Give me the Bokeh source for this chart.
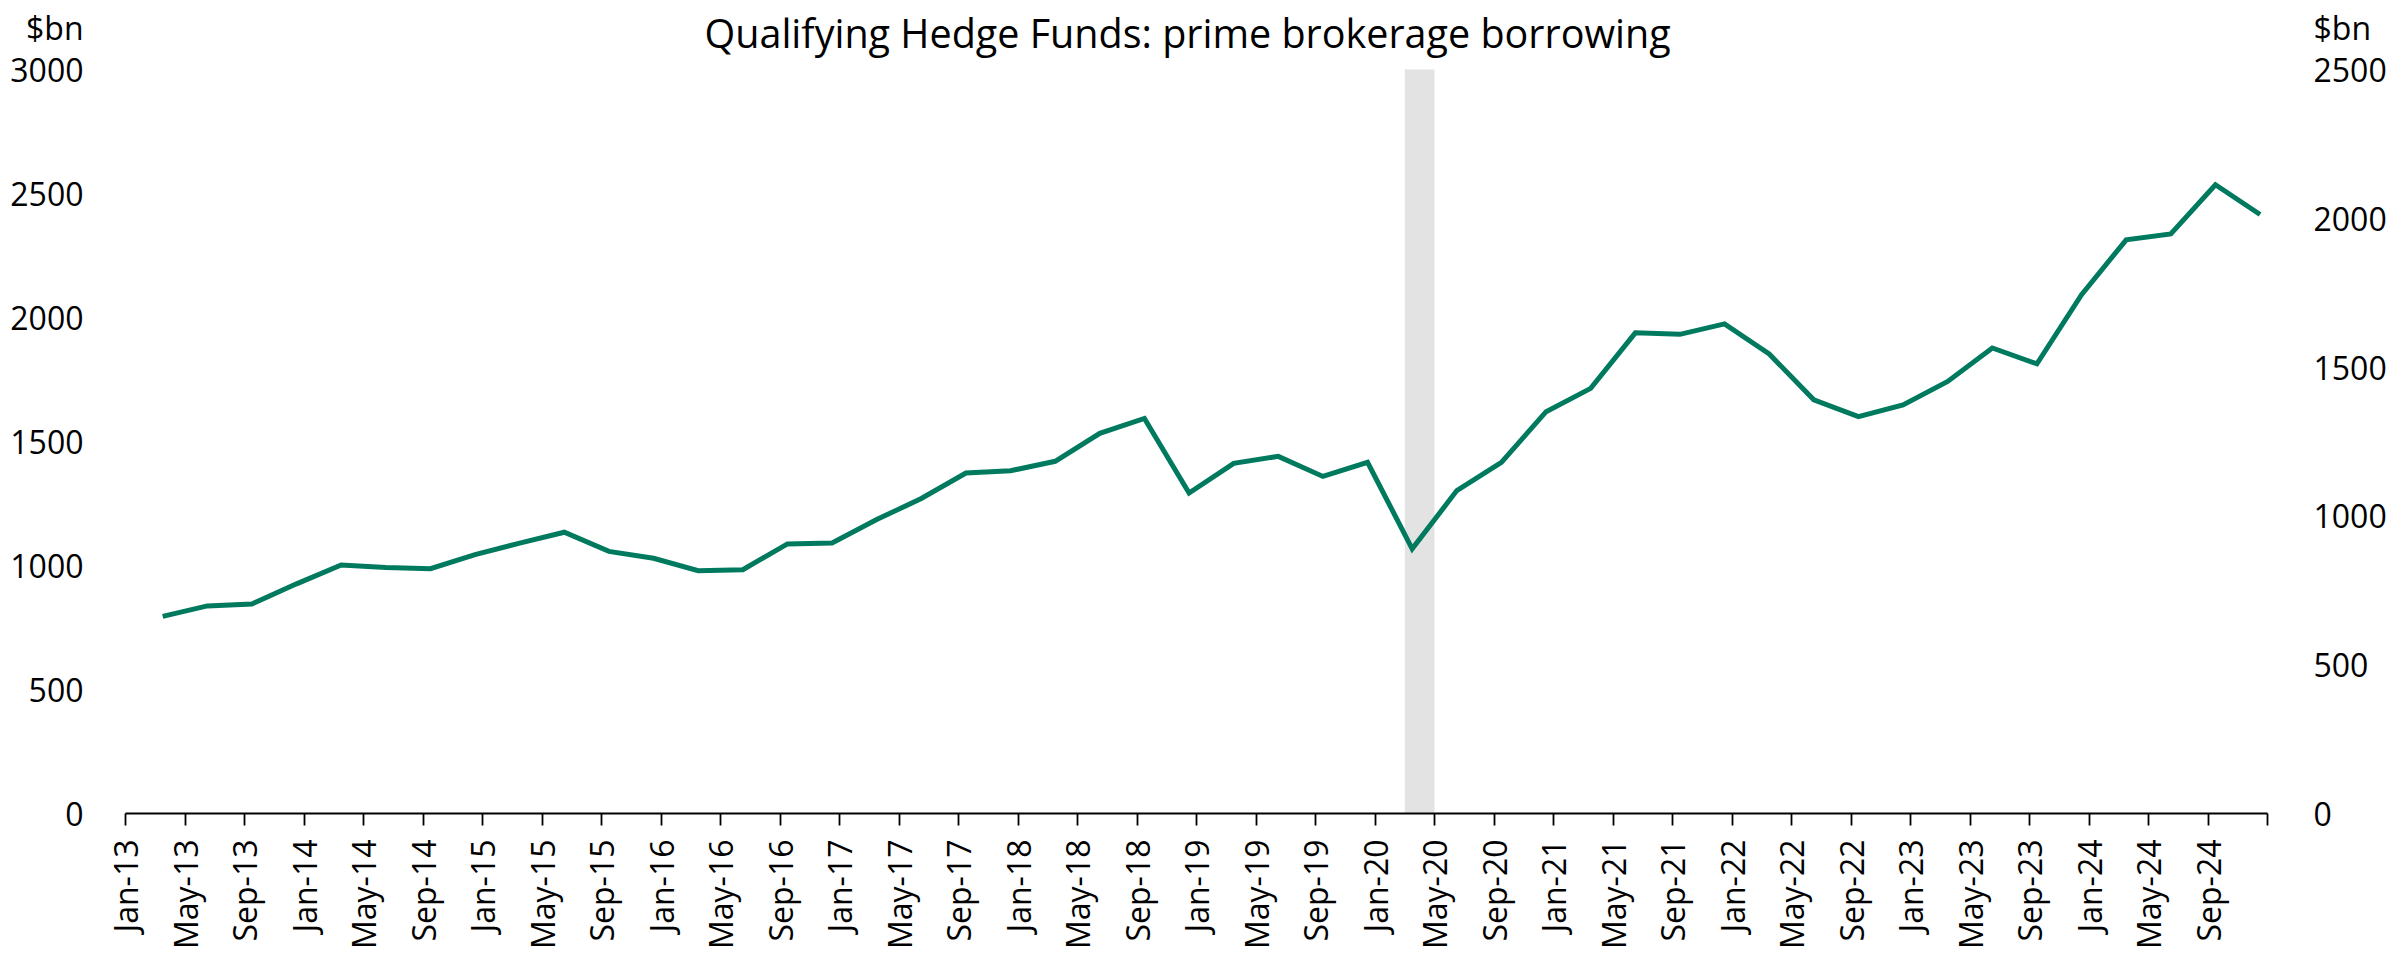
import math
from bokeh.plotting import figure
from bokeh.models import Range1d, LinearAxis, FixedTicker, Label, ColumnDataSource
from bokeh.embed import file_html
from bokeh.resources import INLINE

MONTHS = ["Jan", "Feb", "Mar", "Apr", "May", "Jun",
          "Jul", "Aug", "Sep", "Oct", "Nov", "Dec"]

# Quarter-end observations (US$ bn)
quarters = [
    "Mar-13", "Jun-13", "Sep-13", "Dec-13",
    "Mar-14", "Jun-14", "Sep-14", "Dec-14",
    "Mar-15", "Jun-15", "Sep-15", "Dec-15",
    "Mar-16", "Jun-16", "Sep-16", "Dec-16",
    "Mar-17", "Jun-17", "Sep-17", "Dec-17",
    "Mar-18", "Jun-18", "Sep-18", "Dec-18",
    "Mar-19", "Jun-19", "Sep-19", "Dec-19",
    "Mar-20", "Jun-20", "Sep-20", "Dec-20",
    "Mar-21", "Jun-21", "Sep-21", "Dec-21",
    "Mar-22", "Jun-22", "Sep-22", "Dec-22",
    "Mar-23", "Jun-23", "Sep-23", "Dec-23",
    "Mar-24", "Jun-24", "Sep-24", "Dec-24",
]
borrowing = [
    795, 837, 845, 926,
    1002, 992, 987, 1044,
    1090, 1134, 1057, 1029,
    979, 983, 1087, 1091,
    1185, 1270, 1373, 1382,
    1420, 1533, 1593, 1292,
    1412, 1440, 1359, 1416,
    1067, 1302, 1416, 1620,
    1714, 1938, 1932, 1974,
    1853, 1668, 1600, 1647,
    1742, 1877, 1813, 2092,
    2313, 2337, 2535, 2415,
]

tick_labels = [
    "Jan-13", "May-13", "Sep-13", "Jan-14", "May-14", "Sep-14",
    "Jan-15", "May-15", "Sep-15", "Jan-16", "May-16", "Sep-16",
    "Jan-17", "May-17", "Sep-17", "Jan-18", "May-18", "Sep-18",
    "Jan-19", "May-19", "Sep-19", "Jan-20", "May-20", "Sep-20",
    "Jan-21", "May-21", "Sep-21", "Jan-22", "May-22", "Sep-22",
    "Jan-23", "May-23", "Sep-23", "Jan-24", "May-24", "Sep-24",
]
axis_end = "Jan-25"
covid_band = ["Mar-20", "May-20"]
left_ticks = [0, 500, 1000, 1500, 2000, 2500, 3000]
right_ticks = [0, 500, 1000, 1500, 2000, 2500]

title_text = "Qualifying Hedge Funds: prime brokerage borrowing"
unit_text = "$bn"


def month_index(lbl):
    m, y = lbl.split("-")
    return (int(y) - 13) * 12 + MONTHS.index(m)


x_end = month_index(axis_end)
xs = [month_index(q) + 0.5 for q in quarters]

FONT = "Open Sans"
FS = "32px"

# layout constants: the frame reaches the top of the canvas so that the
# heading texts sit inside it; the value axes only label 0..3000 / 0..2500
LEFT_MAX = left_ticks[-1]
RIGHT_MAX = right_ticks[-1]
Y_TOP = 3278           # top of frame in left-axis units
UNIT_Y = 3170          # height of the "$bn" captions in left-axis units
TITLE_Y = 3145
ratio = RIGHT_MAX / LEFT_MAX

p = figure(width=2389, height=954, output_backend="svg", toolbar_location=None,
           x_range=Range1d(0, x_end), y_range=Range1d(0, Y_TOP),
           min_border_left=125, min_border_right=119, min_border_top=0,
           min_border_bottom=141)
p.outline_line_color = None
p.grid.visible = False

band = ColumnDataSource(dict(left=[month_index(covid_band[0])],
                             right=[month_index(covid_band[1])],
                             bottom=[left_ticks[0]], top=[LEFT_MAX]))
p.quad(left="left", right="right", bottom="bottom", top="top", source=band,
       fill_color="#E3E3E3", line_color=None)

src = ColumnDataSource(dict(x=xs, y=borrowing))
p.line("x", "y", source=src, line_color="#007A5E", line_width=5,
       line_join="miter")

# x axis
ticks = [month_index(t) for t in tick_labels] + [x_end]
p.xaxis.ticker = FixedTicker(ticks=ticks)
overrides = {month_index(t): t for t in tick_labels}
overrides[x_end] = ""
p.xaxis.major_label_overrides = overrides
p.xaxis.major_label_orientation = math.pi / 2
p.xaxis.axis_line_color = "black"
p.xaxis.axis_line_width = 1.8
p.xaxis.major_tick_line_color = "black"
p.xaxis.major_tick_line_width = 1.8
p.xaxis.major_tick_out = 12
p.xaxis.major_tick_in = 0
p.xaxis.minor_tick_line_color = None
p.xaxis.major_label_standoff = 14
p.xaxis.major_label_text_font = FONT
p.xaxis.major_label_text_font_size = FS
p.xaxis.major_label_text_color = "black"

# left y axis (+ "$bn" caption as the top label)
p.yaxis.ticker = FixedTicker(ticks=left_ticks + [UNIT_Y])
p.yaxis.major_label_overrides = {UNIT_Y: unit_text}
p.yaxis.axis_line_color = None
p.yaxis.major_tick_line_color = None
p.yaxis.minor_tick_line_color = None
p.yaxis.major_label_standoff = 36
p.yaxis.major_label_text_font = FONT
p.yaxis.major_label_text_font_size = FS
p.yaxis.major_label_text_color = "black"

# right y axis
unit_y_right = round(UNIT_Y * ratio)
p.extra_y_ranges = {"right": Range1d(0, Y_TOP * ratio)}
ra = LinearAxis(y_range_name="right",
                ticker=FixedTicker(ticks=right_ticks + [unit_y_right]))
ra.major_label_overrides = {unit_y_right: unit_text}
ra.axis_line_color = None
ra.major_tick_line_color = None
ra.minor_tick_line_color = None
ra.major_label_standoff = 40
ra.major_label_text_font = FONT
ra.major_label_text_font_size = FS
ra.major_label_text_color = "black"
p.add_layout(ra, "right")

# title
p.add_layout(Label(x=71.4, y=TITLE_Y, text=title_text, text_align="center",
                   text_baseline="middle", text_font=FONT, text_font_size="39.5px",
                   text_color="black"))

open("out.html", "w").write(file_html(p, INLINE))
